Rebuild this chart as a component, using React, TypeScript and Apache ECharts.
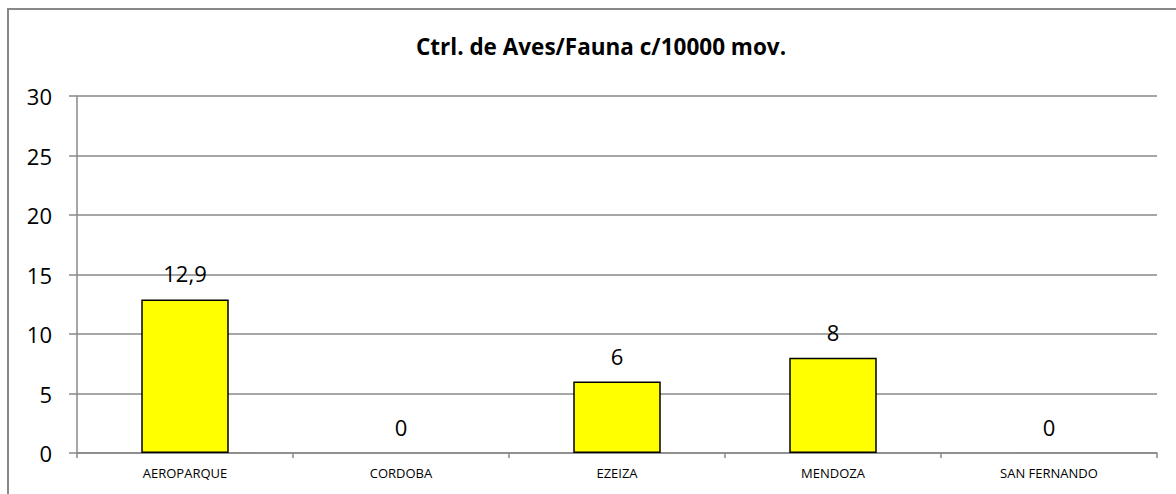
import React, { useEffect, useRef } from "react";
import * as echarts from "echarts";

const categories = ["AEROPARQUE", "CORDOBA", "EZEIZA", "MENDOZA", "SAN FERNANDO"];
const values = [12.9, 0, 6, 8, 0];
const titleText = "Ctrl. de Aves/Fauna c/10000 mov.";

export default function App() {
  const ref = useRef<HTMLDivElement>(null);
  useEffect(() => {
    const chart = echarts.init(ref.current!, null, { renderer: "svg" });
    chart.setOption({
      animation: false,
      backgroundColor: "#ffffff",
      textStyle: { fontFamily: "'Open Sans', sans-serif" },
      title: {
        text: titleText,
        left: 596,
        top: 30,
        textAlign: "center",
        textStyle: { fontSize: 22.5, fontWeight: "bold", color: "#000", fontFamily: "'Open Sans', sans-serif" },
      },
      graphic: [
        {
          type: "rect",
          shape: { x: 8, y: 9, width: 1300, height: 600 },
          style: { fill: "none", stroke: "#888888", lineWidth: 2 },
          silent: true,
        },
      ],
      grid: { left: 77, right: 19, top: 96, bottom: 41 },
      xAxis: {
        type: "category",
        data: categories,
        boundaryGap: true,
        axisLine: { lineStyle: { color: "#888888", width: 1.5 } },
        axisTick: { show: true, length: 5, lineStyle: { color: "#888888", width: 1.5 } },
        axisLabel: { fontSize: 13, color: "#000", margin: 13, interval: 0 },
      },
      yAxis: {
        type: "value",
        min: 0,
        max: 30,
        interval: 5,
        axisLine: { show: true, lineStyle: { color: "#888888", width: 1.5 } },
        axisTick: { show: true, length: 8, lineStyle: { color: "#888888", width: 1.5 } },
        axisLabel: { fontSize: 22, color: "#000", margin: 25 },
        splitLine: { show: true, lineStyle: { color: "#888888", width: 1.5 } },
      },
      series: [
        {
          type: "bar",
          data: values.map((v) => ({
            value: v,
            itemStyle: v === 0 ? { borderWidth: 0 } : undefined,
          })),
          barWidth: "40.5%",
          itemStyle: { color: "#ffff00", borderColor: "#000000", borderWidth: 1.5 },
          label: {
            show: true,
            position: "top",
            distance: 15,
            fontSize: 22,
            color: "#000",
            formatter: (p: any) => String(p.value).replace(".", ","),
          },
        },
      ],
    });
    return () => chart.dispose();
  }, []);
  return (
    <div
      ref={ref}
      style={{ position: "fixed", left: 0, top: 0, width: 1176, height: 494 }}
    />
  );
}
